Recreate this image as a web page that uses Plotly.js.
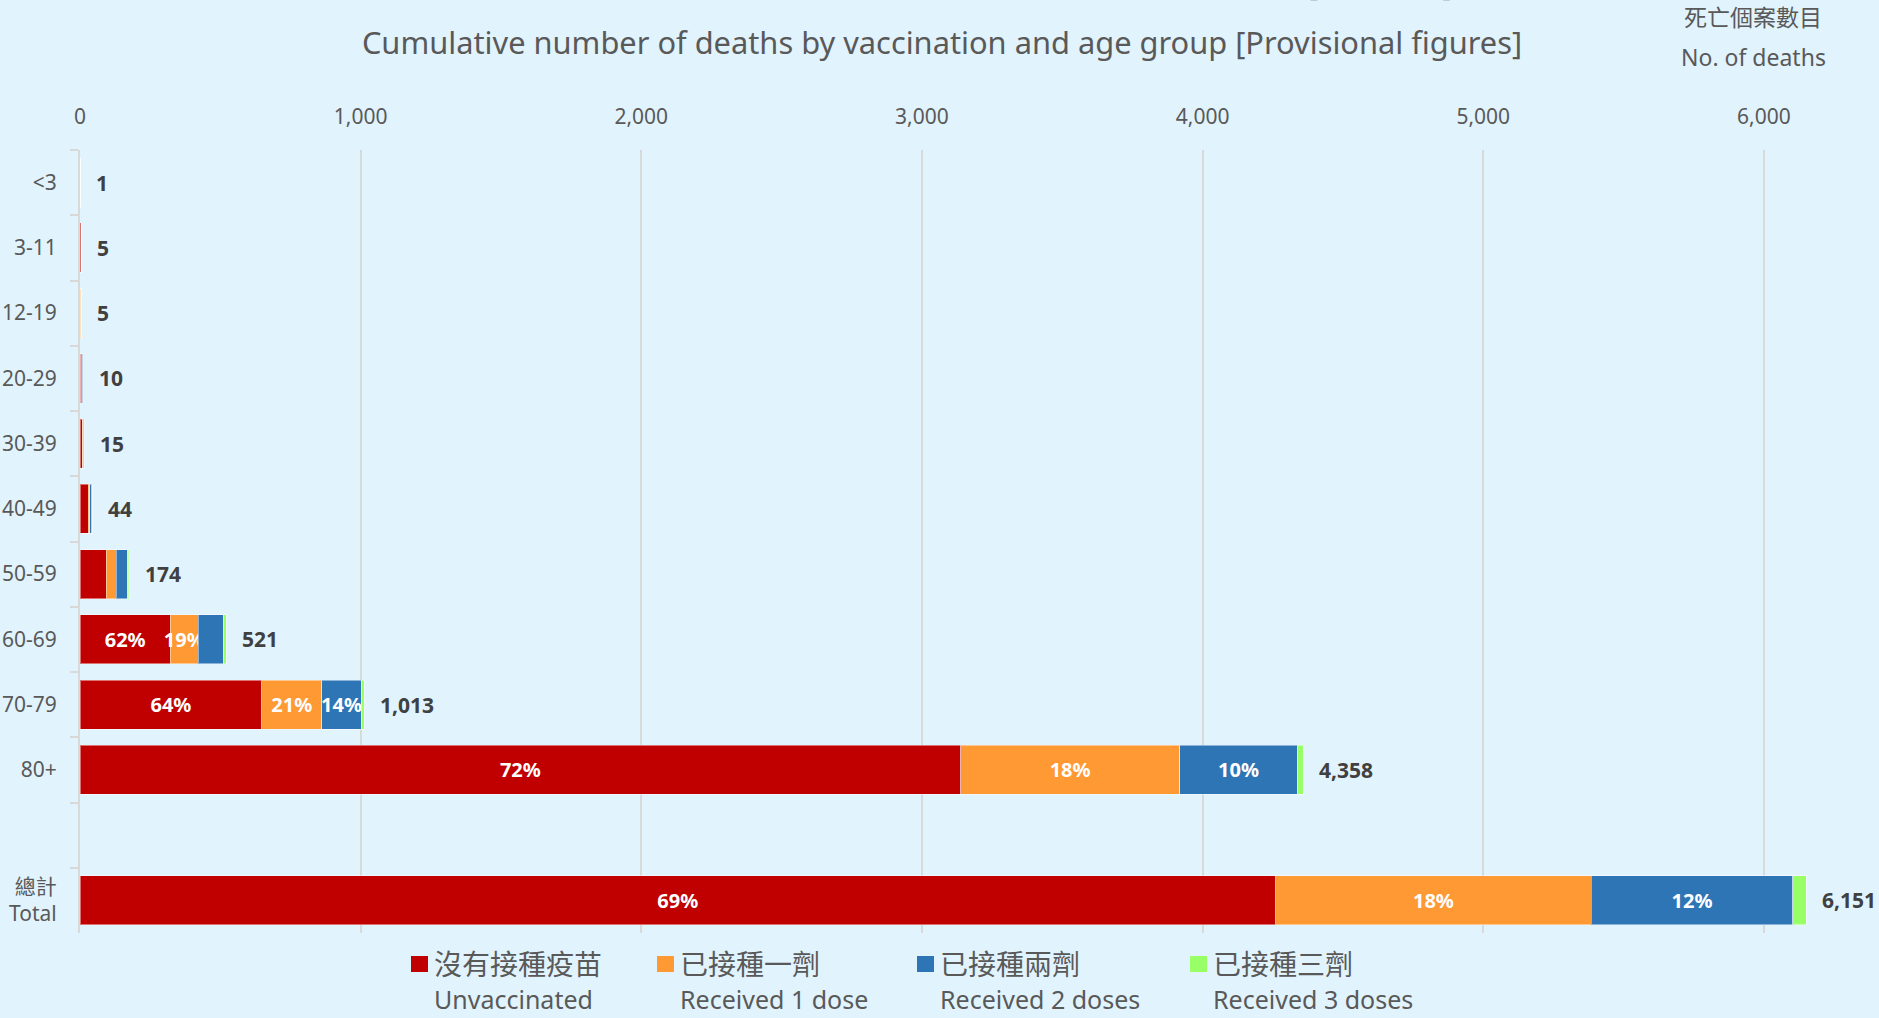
<!DOCTYPE html>
<html>
<head>
<meta charset="utf-8">
<script src="https://cdn.plot.ly/plotly-3.0.1.min.js"></script>
<style>
  html, body { margin: 0; padding: 0; background: #E1F3FD; }
  #chart { width: 1879px; height: 1018px; }
</style>
</head>
<body>
<div id="chart"></div>
<script>
// ---------------- DATA ----------------
const ageGroups = ['<3', '3-11', '12-19', '20-29', '30-39', '40-49', '50-59', '60-69', '70-79', '80+', ' ', '總計<br>Total'];

const seriesNamesZh = ['沒有接種疫苗', '已接種一劑', '已接種兩劑', '已接種三劑'];
const seriesNamesEn = ['Unvaccinated', 'Received 1 dose', 'Received 2 doses', 'Received 3 doses'];

// deaths per age group (spacer row has no data)
const unvaccinated = [1, 4, 1, 3, 8, 30, 93, 322, 648, 3138, null, 4260];
const oneDose      = [0, 1, 1, 1, 2, 4, 36, 99, 213, 780, null, 1125];
const twoDoses     = [0, 0, 3, 6, 3, 7, 40, 89, 142, 420, null, 718];
const threeDoses   = [0, 0, 0, 0, 2, 3, 5, 11, 10, 20, null, 48];

const xTickValues = [0, 1000, 2000, 3000, 4000, 5000, 6000];

const titleZh = '冠狀病毒病按接種疫苗情況及年齡組別劃分的累積死亡個案數目 [臨時數字]';
const titleEn = 'Cumulative number of deaths by vaccination and age group [Provisional figures]';
const axisNoteZh = '死亡個案數目';
const axisNoteEn = 'No. of deaths';

// ---------------- STYLE ----------------
const colors = ['#C00000', '#FF9933', '#2E75B6', '#99FF66'];
const FONT = "'Noto Sans', 'Noto Sans CJK TC', sans-serif";
const GRAY = '#595959';
const W = 1879, H = 1018;
const M = { l: 80, r: 59, t: 150, b: 85 };
const PW = W - M.l - M.r, PH = H - M.t - M.b;
const px2x = px => (px - M.l) / PW;
const px2y = py => (H - M.b - py) / PH;
const LABEL_MIN = 95; // segments smaller than this carry no % label

const series = [unvaccinated, oneDose, twoDoses, threeDoses];
const totals = ageGroups.map((g, i) => {
  if (series[0][i] === null) return null;
  return series.reduce((s, arr) => s + arr[i], 0);
});

const traces = series.map((vals, k) => ({
  type: 'bar',
  orientation: 'h',
  name: seriesNamesEn[k],
  y: ageGroups,
  x: vals,
  marker: { color: colors[k], line: { width: 1, color: 'rgba(255,255,255,0.45)' } },
  text: vals.map((v, i) => (v !== null && v >= LABEL_MIN) ? Math.round(v / totals[i] * 100) + '%' : ''),
  textposition: 'inside',
  insidetextanchor: 'middle',
  constraintext: 'none',
  textangle: 0,
  insidetextfont: { family: FONT, size: 20, color: '#FFFFFF', weight: 'bold' },
  hoverinfo: 'x+name',
  showlegend: false,
  cliponaxis: false
}));

const annotations = [];
// total labels
ageGroups.forEach((g, i) => {
  if (totals[i] === null) return;
  annotations.push({
    x: totals[i], y: g, xref: 'x', yref: 'y',
    text: totals[i].toLocaleString('en-US'),
    showarrow: false, xanchor: 'left', yanchor: 'middle', xshift: 14,
    font: { family: FONT, size: 21, color: '#404040', weight: 'bold' }
  });
});
// cut-off Chinese title (the reference shows only its lower edge)
annotations.push({
  xref: 'paper', yref: 'paper', x: px2x(942), y: px2y(6),
  xanchor: 'center', yanchor: 'bottom', showarrow: false,
  text: titleZh, font: { family: FONT, size: 31, color: GRAY }
});
// unit note
annotations.push({
  xref: 'paper', yref: 'paper', x: px2x(1753), y: px2y(17),
  xanchor: 'center', yanchor: 'middle', showarrow: false,
  text: axisNoteZh, font: { family: FONT, size: 23, color: GRAY }
});
annotations.push({
  xref: 'paper', yref: 'paper', x: px2x(1753), y: px2y(57),
  xanchor: 'center', yanchor: 'middle', showarrow: false,
  text: axisNoteEn, font: { family: FONT, size: 23, color: GRAY }
});

// manual legend
const legendX = [411, 657, 917, 1190];
const shapes = [];
legendX.forEach((lx, k) => {
  shapes.push({
    type: 'rect', xref: 'paper', yref: 'paper',
    x0: px2x(lx), x1: px2x(lx + 17), y0: px2y(972), y1: px2y(956),
    fillcolor: colors[k], line: { width: 0 }
  });
  annotations.push({
    xref: 'paper', yref: 'paper', x: px2x(lx + 21), y: px2y(964),
    xanchor: 'left', yanchor: 'middle', showarrow: false,
    text: seriesNamesZh[k], font: { family: FONT, size: 28, color: GRAY }
  });
  annotations.push({
    xref: 'paper', yref: 'paper', x: px2x(lx + 21), y: px2y(999),
    xanchor: 'left', yanchor: 'middle', showarrow: false,
    text: seriesNamesEn[k], font: { family: FONT, size: 25, color: GRAY }
  });
});

const layout = {
  width: W, height: H,
  margin: M,
  paper_bgcolor: '#E1F3FD',
  plot_bgcolor: '#E1F3FD',
  barmode: 'stack',
  bargap: 0.25,
  font: { family: FONT, color: GRAY },
  title: {
    text: titleEn,
    font: { family: FONT, size: 30.8, color: GRAY },
    xref: 'container', yref: 'container',
    x: 942 / W, y: 1 - 43 / H, xanchor: 'center', yanchor: 'middle'
  },
  xaxis: {
    side: 'top',
    range: [0, 6200],
    tickvals: xTickValues,
    tickformat: ',d',
    showgrid: true, gridcolor: '#D9D9D9', gridwidth: 2,
    zeroline: false, showline: false,
    ticks: '',
    ticklabelstandoff: 21,
    tickfont: { family: FONT, size: 21, color: GRAY },
    fixedrange: true
  },
  yaxis: {
    type: 'category',
    categoryorder: 'array',
    categoryarray: ageGroups,
    range: [ageGroups.length - 0.5, -0.5],
    tickson: 'boundaries',
    ticks: 'outside', ticklen: 8, tickwidth: 2, tickcolor: '#D9D9D9',
    showline: true, linecolor: '#D9D9D9', linewidth: 2,
    showgrid: false,
    ticklabelstandoff: 17,
    tickfont: { family: FONT, size: 21, color: GRAY },
    fixedrange: true
  },
  annotations: annotations,
  shapes: shapes,
  showlegend: false
};

Plotly.newPlot('chart', traces, layout, { displayModeBar: false, staticPlot: true });
</script>
</body>
</html>
